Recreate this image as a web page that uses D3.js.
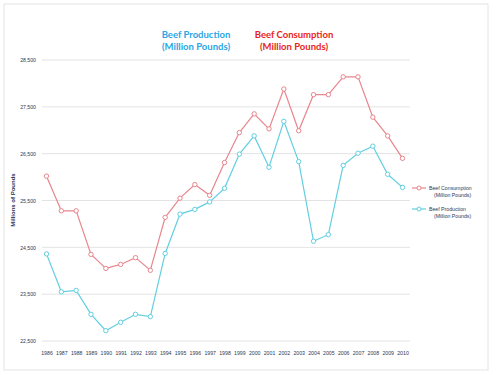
<!DOCTYPE html>
<html><head><meta charset="utf-8">
<script src="https://cdn.jsdelivr.net/npm/d3@7"></script>
<style>body{margin:0;background:#fff;}svg{display:block;}</style>
</head><body><svg id="c" width="500" height="375"></svg>
<script>
const years = [1986,1987,1988,1989,1990,1991,1992,1993,1994,1995,1996,1997,1998,1999,2000,2001,2002,2003,2004,2005,2006,2007,2008,2009,2010];
const consumption = [26020,25280,25280,24350,24050,24135,24280,24010,25140,25550,25840,25610,26310,26950,27350,27030,27880,26990,27760,27760,28140,28140,27280,26880,26400];
const production = [24360,23550,23580,23070,22720,22900,23070,23020,24370,25210,25310,25470,25760,26490,26880,26210,27190,26330,24630,24770,26250,26510,26660,26060,25780];
const yTicks = [22500,23500,24500,25500,26500,27500,28500];
const seriesNames = ["Beef Consumption", "Beef Production"];

const svg = d3.select("#c");
const pink = "#e8868e", blue = "#62cfe0";
svg.append("rect").attr("x",4).attr("y",4).attr("width",484).attr("height",366)
  .attr("fill","#fff").attr("stroke","#e4e4e4").attr("stroke-width",1);

const x = d3.scaleLinear().domain([1986,2010]).range([46.5,402.5]);
const y = d3.scaleLinear().domain([22500,28500]).range([341,60]);

svg.append("g").selectAll("line").data(yTicks).join("line")
  .attr("x1",42).attr("x2",410).attr("y1",d=>y(d)).attr("y2",d=>y(d))
  .attr("stroke","#dcdcdc").attr("stroke-width",0.8);

const yAxis = d3.axisLeft(y).tickValues(yTicks).tickFormat(d3.format(",")).tickSize(0).tickPadding(4);
const ya = svg.append("g").attr("transform","translate(40,0)").call(yAxis);
ya.select(".domain").remove();
ya.selectAll("text").attr("font-family","Liberation Sans, Arial").attr("font-size",5.2).attr("fill","#2b3a55");

const xAxis = d3.axisBottom(x).tickValues(years).tickFormat(d3.format("d")).tickSize(0).tickPadding(0);
const xa = svg.append("g").attr("transform","translate(0,351)").call(xAxis);
xa.select(".domain").remove();
xa.selectAll("text").attr("font-family","Liberation Sans, Arial").attr("font-size",5.2).attr("fill","#2b3a55");

svg.append("text").attr("transform","translate(15,200) rotate(-90)").attr("text-anchor","middle")
  .attr("font-family","Liberation Sans, Arial").attr("font-weight","bold").attr("font-size",6)
  .attr("fill","#1f2f55").text("Millions of Pounds");

const line = d3.line().x((d,i)=>x(years[i])).y(d=>y(d));
[[consumption,pink],[production,blue]].forEach(([data,col])=>{
  svg.append("path").datum(data).attr("d",line).attr("fill","none").attr("stroke",col).attr("stroke-width",1.2);
  svg.append("g").selectAll("circle").data(data).join("circle")
    .attr("cx",(d,i)=>x(years[i])).attr("cy",d=>y(d)).attr("r",2.2)
    .attr("fill","#fff").attr("stroke",col).attr("stroke-width",1);
});

const leg = [[seriesNames[0],pink,188],[seriesNames[1],blue,209]];
leg.forEach(([name,col,ly])=>{
  svg.append("line").attr("x1",412).attr("x2",426).attr("y1",ly).attr("y2",ly).attr("stroke",col).attr("stroke-width",1.2);
  svg.append("circle").attr("cx",419).attr("cy",ly).attr("r",2).attr("fill","#fff").attr("stroke",col);
  const t = svg.append("text").attr("font-family","Liberation Sans, Arial").attr("font-size",5.2).attr("fill","#2b3a55");
  t.append("tspan").attr("x",429).attr("y",ly+2).text(name);
  t.append("tspan").attr("x",434).attr("y",ly+9).text("(Million Pounds)");
});

const titles = [["Beef Production","#2aa6e4",196],["Beef Consumption","#e82420",294]];
titles.forEach(([name,col,cx])=>{
  const t = svg.append("text").attr("text-anchor","middle").attr("font-family","Lato, Open Sans, Arial")
    .attr("font-weight","bold").attr("font-size",9.5).attr("fill",col);
  t.append("tspan").attr("x",cx).attr("y",38).text(name);
  t.append("tspan").attr("x",cx).attr("y",50).text("(Million Pounds)");
});
</script></body></html>
